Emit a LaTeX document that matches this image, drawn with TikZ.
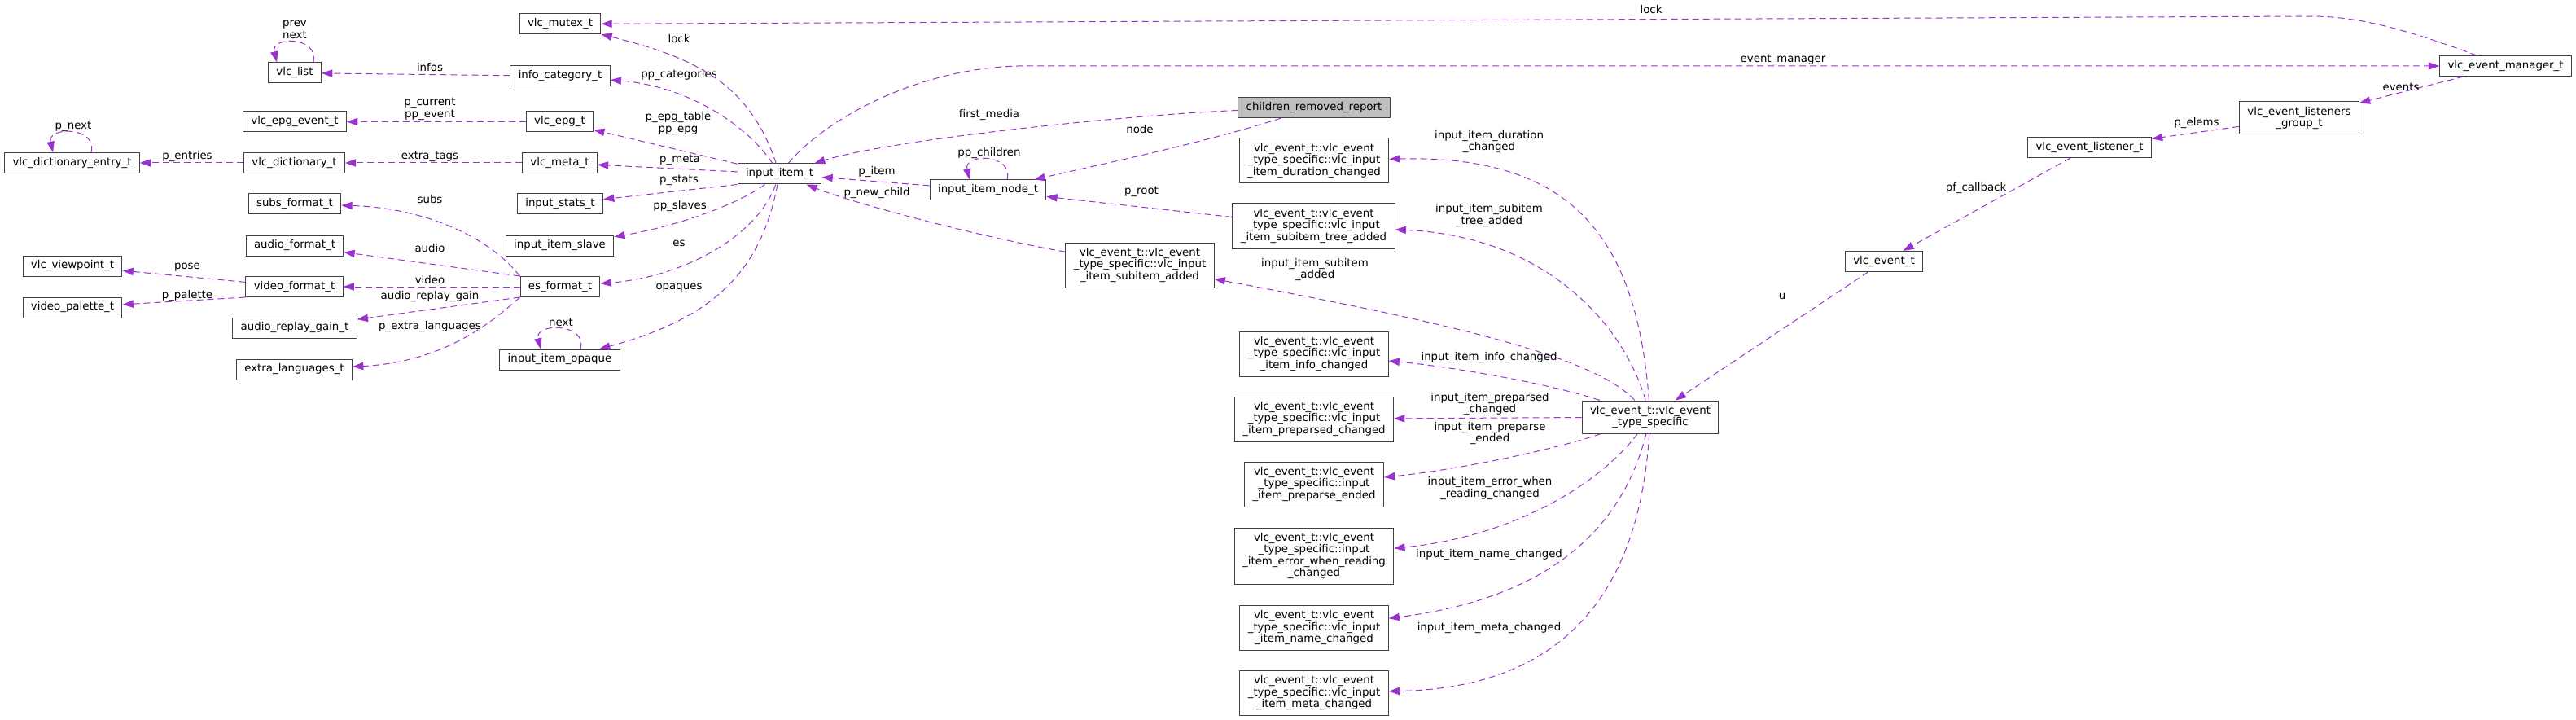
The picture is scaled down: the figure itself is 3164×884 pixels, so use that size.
\documentclass[tikz,border=0pt]{standalone}
\usepackage{fontspec}
\setmainfont{DejaVu Sans}
\usetikzlibrary{arrows.meta}
\usetikzlibrary{calc}
\definecolor{usecol}{HTML}{9A32CD}

\begin{document}
\begin{tikzpicture}[
  x=0.75pt, y=-0.75pt,
  font=\fontsize{10pt}{10.9pt}\selectfont,
  every node/.style={align=center},
  box/.style={draw=black!75, line width=0.75pt, fill=white, inner xsep=7.4pt, inner ysep=2pt, minimum height=18.75pt},
  box2/.style={box, minimum height=30pt},
  box3/.style={box, minimum height=41.25pt},
  box4/.style={box, minimum height=51.75pt},
  mainbox/.style={box, fill=black!25},
  lbl/.style={inner sep=0pt},
  member/.style={draw=usecol, line width=0.75pt, dash pattern=on 6pt off 3.75pt, -{Triangle[length=10pt,width=7pt]}}
]
\useasboundingbox (0,0) rectangle (3164,884);

\node[box] (mutex) at (688,29.5) {vlc\_mutex\_t};
\node[box] (vlclist) at (362,89.5) {vlc\_list};
\node[box] (infocat) at (688,93.5) {info\_category\_t};
\node[box] (epgevent) at (362,149.5) {vlc\_epg\_event\_t};
\node[box] (epg) at (687.5,149.5) {vlc\_epg\_t};
\node[box] (dictentry) at (88.5,200) {vlc\_dictionary\_entry\_t};
\node[box] (dict) at (361.5,200) {vlc\_dictionary\_t};
\node[box] (meta) at (687.5,200) {vlc\_meta\_t};
\node[box] (subsfmt) at (362,250.5) {subs\_format\_t};
\node[box] (stats) at (688,250.5) {input\_stats\_t};
\node[box] (audiofmt) at (362,301.5) {audio\_format\_t};
\node[box] (slave) at (687.5,301.5) {input\_item\_slave};
\node[box] (viewpoint) at (89,326.5) {vlc\_viewpoint\_t};
\node[box] (videofmt) at (361.5,352) {video\_format\_t};
\node[box] (esfmt) at (688,352) {es\_format\_t};
\node[box] (palette) at (89,377.5) {video\_palette\_t};
\node[box] (replaygain) at (362,402.5) {audio\_replay\_gain\_t};
\node[box] (opaque) at (687.5,441.5) {input\_item\_opaque};
\node[box] (extralang) at (361.5,453.5) {extra\_languages\_t};
\node[box] (item) at (957.5,213.5) {input\_item\_t};
\node[box] (itemnode) at (1213.5,233.5) {input\_item\_node\_t};
\node[mainbox] (report) at (1614,132) {children\_removed\_report};
\node[box3] (durchg) at (1614,197.5) {vlc\_event\_t::vlc\_event\\\_type\_specific::vlc\_input\\\_item\_duration\_changed};
\node[box3] (treeadd) at (1613.5,277.5) {vlc\_event\_t::vlc\_event\\\_type\_specific::vlc\_input\\\_item\_subitem\_tree\_added};
\node[box3] (subadd) at (1400,325.5) {vlc\_event\_t::vlc\_event\\\_type\_specific::vlc\_input\\\_item\_subitem\_added};
\node[box3] (infochg) at (1614,434.5) {vlc\_event\_t::vlc\_event\\\_type\_specific::vlc\_input\\\_item\_info\_changed};
\node[box3] (prepchg) at (1614,514.5) {vlc\_event\_t::vlc\_event\\\_type\_specific::vlc\_input\\\_item\_preparsed\_changed};
\node[box3] (prepend) at (1614,594.5) {vlc\_event\_t::vlc\_event\\\_type\_specific::input\\\_item\_preparse\_ended};
\node[box4] (errchg) at (1614,682.5) {vlc\_event\_t::vlc\_event\\\_type\_specific::input\\\_item\_error\_when\_reading\\\_changed};
\node[box3] (namechg) at (1614,770.5) {vlc\_event\_t::vlc\_event\\\_type\_specific::vlc\_input\\\_item\_name\_changed};
\node[box3] (metachg) at (1614,850.5) {vlc\_event\_t::vlc\_event\\\_type\_specific::vlc\_input\\\_item\_meta\_changed};
\node[box2] (typespec) at (2027,512) {vlc\_event\_t::vlc\_event\\\_type\_specific};
\node[box] (event) at (2314,321) {vlc\_event\_t};
\node[box] (listener) at (2566.5,181) {vlc\_event\_listener\_t};
\node[box2] (group) at (2824,145) {vlc\_event\_listeners\\\_group\_t};
\node[box] (evmgr) at (3077.5,81) {vlc\_event\_manager\_t};

\draw[member] ($(vlclist.north)+(23,0)$) .. controls (392,44) and (332,44) .. ($(vlclist.north)+(-22,0)$);
\draw[member] (infocat) -- (vlclist);
\draw[member] (epg) -- (epgevent);
\draw[member] ($(dictentry.north)+(23.5,0)$) .. controls (120,155) and (58,155) .. ($(dictentry.north)+(-23.5,0)$);
\draw[member] (dict) -- (dictentry);
\draw[member] (meta) -- (dict);
\draw[member] (esfmt.north west) .. controls (600,290) and (520,255) .. (subsfmt);
\draw[member] (esfmt.north west) -- (audiofmt);
\draw[member] (videofmt) -- (viewpoint);
\draw[member] (videofmt.south west) -- (palette);
\draw[member] (esfmt) -- (videofmt);
\draw[member] (esfmt.south west) -- (replaygain);
\draw[member] (esfmt.south west) .. controls (600,400) and (540,445) .. (extralang);
\draw[member] ($(opaque.north)+(25.5,0)$) .. controls (722,396) and (656,396) .. ($(opaque.north)+(-23.5,0)$);
\draw[member] (item) .. controls (920,100) and (850,70) .. (mutex);
\draw[member] (item) .. controls (915,150) and (840,105) .. (infocat);
\draw[member] (item) -- (epg);
\draw[member] (item) -- (meta);
\draw[member] (item.south west) -- (stats);
\draw[member] (item) .. controls (900,255) and (820,280) .. (slave);
\draw[member] (item) .. controls (930,290) and (840,340) .. (esfmt);
\draw[member] (item) .. controls (935,330) and (880,390) .. (opaque);
\draw[member] (evmgr) .. controls (2960,38) and (2900,20) .. (2839,20) -- (mutex);
\draw[member] (item) .. controls (1010,150) and (1120,85) .. (1250,81) -- (evmgr);
\draw[member] (report) .. controls (1400,140) and (1100,170) .. (item);
\draw[member] (report) .. controls (1480,175) and (1360,200) .. (itemnode);
\draw[member] (itemnode) -- (item);
\draw[member] ($(itemnode.north)+(23.5,0)$) .. controls (1245,188) and (1183,188) .. ($(itemnode.north)+(-22.5,0)$);
\draw[member] (subadd) .. controls (1200,290) and (1050,250) .. (item);
\draw[member] (treeadd) -- (itemnode);
\draw[member] (evmgr) -- (group);
\draw[member] (group) -- (listener);
\draw[member] (listener) -- (event);
\draw[member] (event) -- (typespec);
\draw[member] (typespec) .. controls (2010,290) and (1930,190) .. (durchg);
\draw[member] (typespec) .. controls (1995,400) and (1900,290) .. (treeadd);
\draw[member] (typespec) .. controls (1960,440) and (1800,400) .. (subadd);
\draw[member] (typespec) .. controls (1900,470) and (1780,450) .. (infochg);
\draw[member] (typespec) -- (prepchg);
\draw[member] (typespec) .. controls (1900,555) and (1780,578) .. (prepend);
\draw[member] (typespec) .. controls (1960,600) and (1850,660) .. (errchg);
\draw[member] (typespec) .. controls (1985,680) and (1860,740) .. (namechg);
\draw[member] (typespec) .. controls (2012,750) and (1900,845) .. (metachg);

\node[lbl] (l-prevnext) at (362,36.5) {prev\\next};
\node[lbl] (l-infos) at (528,83) {infos};
\node[lbl] (l-epgev) at (528,134) {p\_current\\pp\_event};
\node[lbl] (l-pnext) at (90,155) {p\_next};
\node[lbl] (l-entries) at (230,192) {p\_entries};
\node[lbl] (l-extratags) at (528,192) {extra\_tags};
\node[lbl] (l-subs) at (528,245) {subs};
\node[lbl] (l-audio) at (528,305) {audio};
\node[lbl] (l-pose) at (230,328) {pose};
\node[lbl] (l-video) at (528,344) {video};
\node[lbl] (l-palette) at (230,363) {p\_palette};
\node[lbl] (l-replay) at (528,364) {audio\_replay\_gain};
\node[lbl] (l-extralang) at (528,401) {p\_extra\_languages};
\node[lbl] (l-next) at (689,396) {next};
\node[lbl] (l-lock) at (834,48) {lock};
\node[lbl] (l-categories) at (834,92) {pp\_categories};
\node[lbl] (l-epg) at (833,151.5) {p\_epg\_table\\pp\_epg};
\node[lbl] (l-meta) at (835,196) {p\_meta};
\node[lbl] (l-stats) at (834,221) {p\_stats};
\node[lbl] (l-slaves) at (835,253) {pp\_slaves};
\node[lbl] (l-es) at (834,299) {es};
\node[lbl] (l-opaques) at (834,353) {opaques};
\node[lbl] (l-lock2) at (2028,12) {lock};
\node[lbl] (l-evmgr) at (2190,73) {event\_manager};
\node[lbl] (l-first) at (1215,141) {first\_media};
\node[lbl] (l-node) at (1400,159) {node};
\node[lbl] (l-pitem) at (1077,211) {p\_item};
\node[lbl] (l-children) at (1215,188) {pp\_children};
\node[lbl] (l-newchild) at (1077,237) {p\_new\_child};
\node[lbl] (l-root) at (1402,235) {p\_root};
\node[lbl] (l-events) at (2949,107) {events};
\node[lbl] (l-elems) at (2698,151) {p\_elems};
\node[lbl] (l-callback) at (2427,231) {pf\_callback};
\node[lbl] (l-u) at (2189,364) {u};
\node[lbl] (l-dur) at (1829,174) {input\_item\_duration\\\_changed};
\node[lbl] (l-tree) at (1829,264.5) {input\_item\_subitem\\\_tree\_added};
\node[lbl] (l-added) at (1615,331) {input\_item\_subitem\\\_added};
\node[lbl] (l-info) at (1829,439) {input\_item\_info\_changed};
\node[lbl] (l-prepchg) at (1830,496) {input\_item\_preparsed\\\_changed};
\node[lbl] (l-prepend) at (1830,532) {input\_item\_preparse\\\_ended};
\node[lbl] (l-err) at (1830,599.5) {input\_item\_error\_when\\\_reading\_changed};
\node[lbl] (l-name) at (1829,681) {input\_item\_name\_changed};
\node[lbl] (l-metachg) at (1829,771) {input\_item\_meta\_changed};
\end{tikzpicture}
\end{document}
